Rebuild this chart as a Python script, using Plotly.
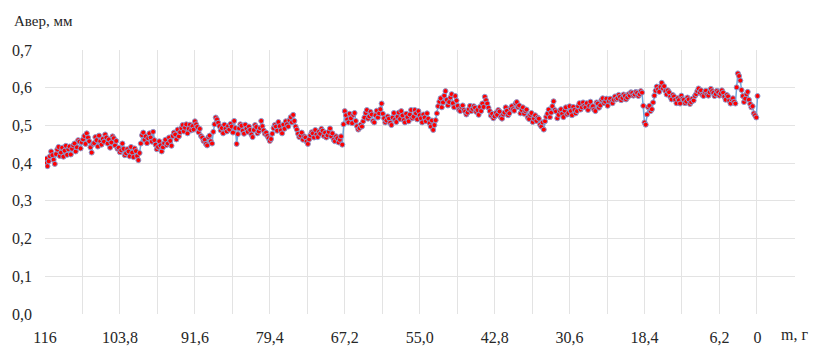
import plotly.graph_objects as go

# Mass axis: from 116 g down to 0 g in 0.2 g steps
m_start = 116.0
m_step = 0.2

a_ver = [
    0.400, 0.412, 0.392, 0.405, 0.418, 0.431, 0.421, 0.409, 0.398, 0.424, 0.436, 0.443, 0.419, 0.428, 0.441, 0.417, 0.433, 0.446, 0.422, 0.437,
    0.444, 0.423, 0.438, 0.447, 0.452, 0.431, 0.442, 0.461, 0.457, 0.439, 0.455, 0.463, 0.472, 0.451, 0.479, 0.468, 0.458, 0.442, 0.428, 0.451,
    0.453, 0.469, 0.461, 0.444, 0.473, 0.458, 0.449, 0.464, 0.457, 0.476, 0.468, 0.452, 0.463, 0.441, 0.455, 0.471, 0.466, 0.447, 0.459, 0.438,
    0.441, 0.429, 0.434, 0.452, 0.438, 0.421, 0.426, 0.437, 0.431, 0.418, 0.443, 0.428, 0.416, 0.439, 0.432, 0.419, 0.408, 0.427, 0.452, 0.474,
    0.481, 0.462, 0.471, 0.453, 0.466, 0.479, 0.468, 0.457, 0.483, 0.461, 0.449, 0.437, 0.443, 0.458, 0.447, 0.431, 0.442, 0.453, 0.462, 0.448,
    0.452, 0.468, 0.459, 0.446, 0.472, 0.481, 0.476, 0.463, 0.489, 0.471, 0.482, 0.493, 0.501, 0.484, 0.494, 0.503, 0.479, 0.491, 0.502, 0.487,
    0.498, 0.489, 0.511, 0.503, 0.496, 0.482, 0.491, 0.472, 0.468, 0.459, 0.462, 0.451, 0.447, 0.469, 0.473, 0.458, 0.452, 0.483, 0.503, 0.521,
    0.516, 0.507, 0.498, 0.487, 0.493, 0.479, 0.502, 0.491, 0.484, 0.498, 0.489, 0.504, 0.497, 0.481, 0.512, 0.493, 0.451, 0.477, 0.492, 0.503,
    0.499, 0.486, 0.478, 0.502, 0.491, 0.483, 0.497, 0.488, 0.476, 0.469, 0.488, 0.501, 0.496, 0.479, 0.484, 0.493, 0.512, 0.498, 0.487, 0.478,
    0.481, 0.472, 0.466, 0.459, 0.464, 0.478, 0.493, 0.501, 0.497, 0.486, 0.509, 0.498, 0.487, 0.479, 0.502, 0.491, 0.511, 0.503, 0.497, 0.514,
    0.522, 0.508, 0.528, 0.512, 0.497, 0.489, 0.478, 0.469, 0.473, 0.481, 0.462, 0.471, 0.468, 0.457, 0.451, 0.463, 0.474, 0.482, 0.479, 0.468,
    0.488, 0.476, 0.469, 0.483, 0.478, 0.491, 0.486, 0.472, 0.481, 0.468, 0.474, 0.483, 0.492, 0.471, 0.479, 0.462, 0.458, 0.471, 0.466, 0.455,
    0.462, 0.471, 0.449, 0.503, 0.538, 0.527, 0.516, 0.508, 0.531, 0.519, 0.506, 0.528, 0.533, 0.512, 0.498, 0.489, 0.493, 0.502, 0.497, 0.511,
    0.521, 0.533, 0.541, 0.518, 0.524, 0.536, 0.529, 0.512, 0.508, 0.527, 0.539, 0.521, 0.532, 0.543, 0.558, 0.531, 0.519, 0.508, 0.513, 0.524,
    0.518, 0.507, 0.501, 0.521, 0.533, 0.516, 0.509, 0.523, 0.534, 0.517, 0.538, 0.526, 0.514, 0.508, 0.531, 0.522, 0.511, 0.529, 0.541, 0.519,
    0.523, 0.541, 0.532, 0.516, 0.538, 0.527, 0.519, 0.508, 0.529, 0.521, 0.511, 0.532, 0.518, 0.506, 0.497, 0.513, 0.488, 0.501, 0.514, 0.532,
    0.551, 0.563, 0.572, 0.548, 0.561, 0.579, 0.591, 0.568, 0.553, 0.562, 0.574, 0.583, 0.559, 0.548, 0.578, 0.566, 0.552, 0.541, 0.538, 0.549,
    0.553, 0.541, 0.537, 0.529, 0.534, 0.543, 0.552, 0.538, 0.544, 0.551, 0.547, 0.536, 0.541, 0.528, 0.549, 0.538, 0.558, 0.549, 0.576, 0.567,
    0.558, 0.547, 0.538, 0.526, 0.531, 0.519, 0.524, 0.533, 0.528, 0.541, 0.537, 0.522, 0.518, 0.529, 0.534, 0.548, 0.539, 0.527, 0.532, 0.546,
    0.551, 0.543, 0.539, 0.558, 0.562, 0.549, 0.553, 0.532, 0.541, 0.548, 0.531, 0.538, 0.542, 0.521, 0.517, 0.528, 0.533, 0.509, 0.518, 0.527,
    0.512, 0.521, 0.518, 0.502, 0.497, 0.508, 0.489, 0.511, 0.523, 0.531, 0.542, 0.522, 0.534, 0.551, 0.564, 0.541, 0.537, 0.519, 0.528, 0.539,
    0.543, 0.531, 0.522, 0.539, 0.548, 0.529, 0.533, 0.551, 0.538, 0.527, 0.549, 0.541, 0.532, 0.538, 0.551, 0.559, 0.542, 0.548, 0.561, 0.552,
    0.548, 0.559, 0.541, 0.552, 0.563, 0.549, 0.551, 0.542, 0.538, 0.561, 0.558, 0.547, 0.553, 0.568, 0.572, 0.559, 0.563, 0.571, 0.552, 0.564,
    0.571, 0.562, 0.559, 0.568, 0.577, 0.569, 0.572, 0.581, 0.576, 0.567, 0.573, 0.582, 0.578, 0.569, 0.574, 0.583, 0.579, 0.588, 0.586, 0.579,
    0.582, 0.589, 0.586, 0.578, 0.583, 0.591, 0.587, 0.552, 0.508, 0.502, 0.529, 0.548, 0.552, 0.538, 0.543, 0.561, 0.579, 0.592, 0.603, 0.596,
    0.589, 0.602, 0.613, 0.598, 0.604, 0.591, 0.582, 0.593, 0.588, 0.576, 0.569, 0.581, 0.577, 0.568, 0.559, 0.572, 0.567, 0.558, 0.579, 0.571,
    0.568, 0.559, 0.563, 0.574, 0.569, 0.557, 0.562, 0.571, 0.566, 0.578, 0.583, 0.591, 0.598, 0.587, 0.593, 0.581, 0.578, 0.589, 0.592, 0.582,
    0.579, 0.588, 0.597, 0.591, 0.586, 0.578, 0.583, 0.592, 0.588, 0.579, 0.584, 0.593, 0.587, 0.576, 0.568, 0.581, 0.577, 0.566, 0.558, 0.569,
    0.572, 0.563, 0.558, 0.601, 0.638, 0.631, 0.619, 0.594, 0.578, 0.562, 0.571, 0.583, 0.589, 0.568, 0.557, 0.548, 0.551, 0.532, 0.527, 0.521,
    0.578,
]

mass = [round(m_start - i * m_step, 1) for i in range(len(a_ver))]

x_tick_vals = [116, 103.8, 91.6, 79.4, 67.2, 55.0, 42.8, 30.6, 18.4, 6.2, 0]
x_tick_text = ["116", "103,8", "91,6", "79,4", "67,2", "55,0", "42,8",
               "30,6", "18,4", "6,2", "0"]

FONT = "Liberation Serif, Times New Roman, serif"
TEXT = "#262626"
GRID = "#e3e3e3"

fig = go.Figure()
fig.add_trace(go.Scatter(
    x=mass,
    y=a_ver,
    mode="lines+markers",
    line=dict(color="#6fa8dc", width=1.5),
    marker=dict(color="#ff0000", size=5,
                line=dict(color="#8a9ad0", width=1)),
    showlegend=False,
    hoverinfo="x+y",
))

W, H = 819, 358
ml, mr, mt, mb = 45, 24, 50, 31
pw, ph = W - ml - mr, H - mt - mb


def to_paper(px, py):
    return (px - ml) / pw, 1 - (py - mt) / ph


title_x, title_y = to_paper(12, 20)
unit_x, unit_y = to_paper(779, 348)

fig.update_layout(
    width=W,
    height=H,
    margin=dict(l=ml, r=mr, t=mt, b=mb),
    paper_bgcolor="white",
    plot_bgcolor="white",
    separators=", ",
    font=dict(family=FONT, size=16, color=TEXT),
    xaxis=dict(
        range=[116, -6.1],
        tickvals=x_tick_vals,
        ticktext=x_tick_text,
        showgrid=False,
        zeroline=False,
        showline=False,
        ticks="",
        ticklabelstandoff=12,
        tickfont=dict(family=FONT, size=16, color=TEXT),
        minor=dict(tick0=116, dtick=6.1, showgrid=True,
                   gridcolor=GRID, gridwidth=1),
    ),
    yaxis=dict(
        range=[0, 0.7],
        dtick=0.1,
        tickformat=".1f",
        showgrid=True,
        gridcolor=GRID,
        gridwidth=1,
        zeroline=False,
        showline=False,
        ticks="",
        ticklabelstandoff=12,
        tickfont=dict(family=FONT, size=16, color=TEXT),
    ),
    annotations=[
        dict(text="Авер, мм", x=title_x, y=title_y, xref="paper", yref="paper",
             showarrow=False, xanchor="left", yanchor="middle",
             font=dict(family=FONT, size=15, color=TEXT)),
        dict(text="m, г", x=unit_x, y=unit_y, xref="paper", yref="paper",
             showarrow=False, xanchor="left", yanchor="middle",
             font=dict(family=FONT, size=16, color=TEXT)),
    ],
)

fig.write_html("out.html")
